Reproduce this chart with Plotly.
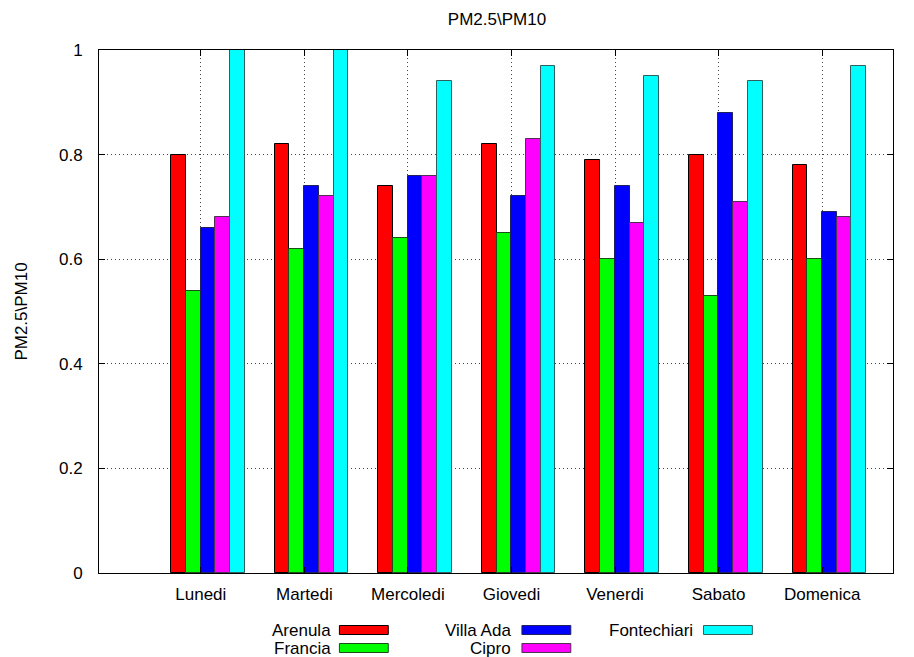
import plotly.graph_objects as go

days = ["Lunedi", "Martedi", "Mercoledi", "Giovedi", "Venerdi", "Sabato", "Domenica"]
series_names = ["Arenula", "Francia", "Villa Ada", "Cipro", "Fontechiari"]
colors = ["#ff0000", "#00ff00", "#0000ff", "#ff00ff", "#00ffff"]
edge_colors = ["#000000", "#1a4d1a", "#202060", "#503050", "#2f5f5f"]

arenula = [0.80, 0.82, 0.74, 0.82, 0.79, 0.80, 0.78]
francia = [0.54, 0.62, 0.64, 0.65, 0.60, 0.53, 0.60]
villa_ada = [0.66, 0.74, 0.76, 0.72, 0.74, 0.88, 0.69]
cipro = [0.68, 0.72, 0.76, 0.83, 0.67, 0.71, 0.68]
fontechiari = [1.00, 1.00, 0.94, 0.97, 0.95, 0.94, 0.97]
values = [arenula, francia, villa_ada, cipro, fontechiari]

# page is rendered with an 8px body margin
OFF = 8
W, H = 914 - OFF, 657 - OFF
# plot area in page pixels
L, R, T, B = 97, 893, 50, 573

def px(x):
    return (x - L) / (R - L)

def py(y):
    return (B - y) / (B - T)

bar_w = 0.142
first_off = -0.286

fig = go.Figure()
for i, (name, vals) in enumerate(zip(series_names, values)):
    fig.add_trace(go.Bar(
        x=days, y=vals, name=name,
        offset=first_off + i * bar_w, width=bar_w,
        marker=dict(color=colors[i], line=dict(color=edge_colors[i], width=1)),
        showlegend=False,
    ))

font_family = "Liberation Sans, Arial, sans-serif"
FS = 17

# manual gnuplot-style legend: text then sample box
legend_layout = [
    # (text right px, box left px, box right px, row center y px)
    (332, 338, 387, 630),
    (332, 338, 387, 648),
    (512, 521, 570, 630),
    (512, 521, 570, 648),
    (695, 703, 752, 630),
]
shapes = []
annotations = []
for i, name in enumerate(series_names):
    tx, bx0, bx1, cy = legend_layout[i]
    annotations.append(dict(
        xref="paper", yref="paper", x=px(tx), y=py(cy), text=name,
        showarrow=False, xanchor="right", yanchor="middle",
        font=dict(family=font_family, size=FS, color="#000000"),
    ))
    shapes.append(dict(
        type="rect", xref="paper", yref="paper",
        x0=px(bx0), x1=px(bx1), y0=py(cy - 4.5), y1=py(cy + 4.5),
        fillcolor=colors[i], line=dict(color=edge_colors[i], width=1),
    ))

fig.update_layout(
    width=W, height=H,
    margin=dict(l=L - OFF, r=914 - R, t=T - OFF, b=657 - B, pad=0),
    paper_bgcolor="white", plot_bgcolor="white",
    font=dict(family=font_family, size=FS, color="#000000"),
    title=dict(text="PM2.5\\PM10", x=px(496), xref="paper", xanchor="center",
               y=1 - (19 - OFF) / H, yanchor="middle", font=dict(size=FS)),
    bargap=0, barmode="overlay",
    shapes=shapes, annotations=annotations,
    showlegend=False,
)
grid_kw = dict(showgrid=True, gridcolor="#444444", griddash="1px,3px", gridwidth=1)
fig.update_xaxes(
    range=[-0.983, 6.684],
    showline=True, linecolor="#000000", linewidth=1, mirror="allticks",
    ticks="inside", ticklen=6, tickcolor="#000000",
    ticklabelstandoff=6,
    tickfont=dict(size=FS),
    **grid_kw,
)
fig.update_yaxes(
    range=[0, 1], dtick=0.2,
    showline=True, linecolor="#000000", linewidth=1, mirror="allticks",
    ticks="inside", ticklen=6, tickcolor="#000000",
    zeroline=False,
    ticklabelstandoff=12,
    tickfont=dict(size=FS),
    title=dict(text="PM2.5\\PM10", standoff=27, font=dict(size=FS)),
    **grid_kw,
)

fig.write_html("out.html")
